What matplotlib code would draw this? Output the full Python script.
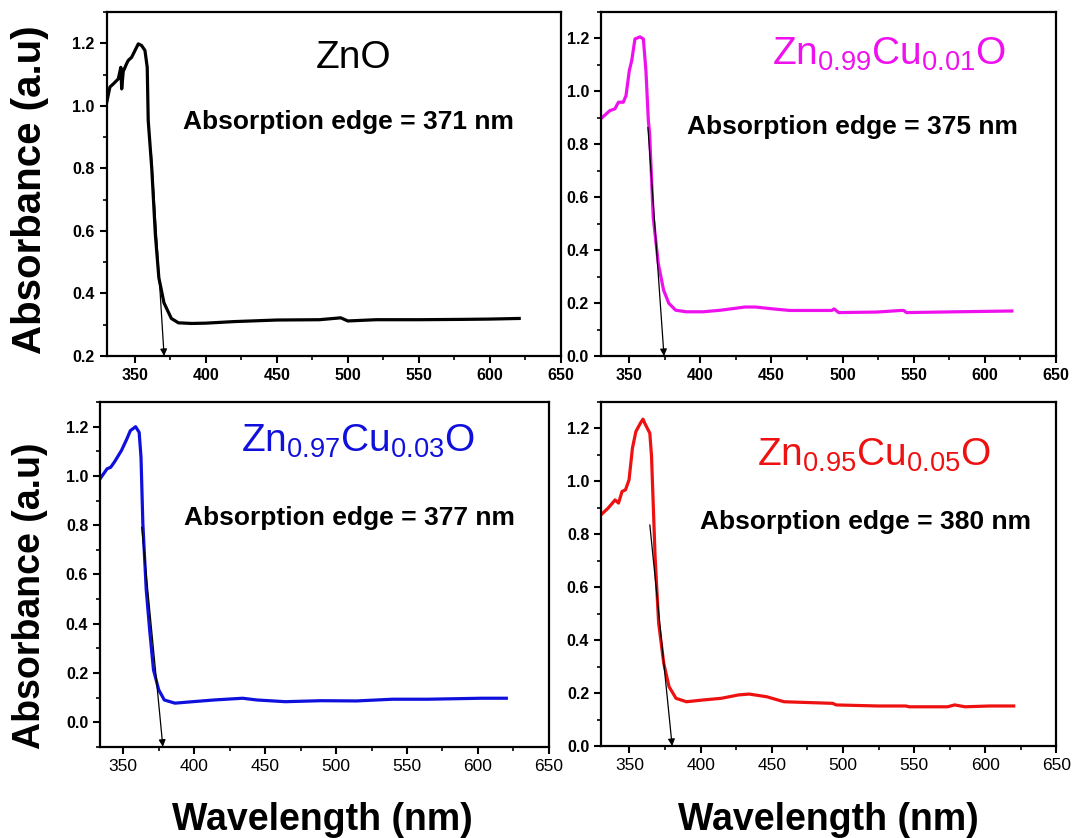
import matplotlib
matplotlib.use("Agg")
import matplotlib.pyplot as plt
import numpy as np
from matplotlib.ticker import MultipleLocator

plt.rcParams['font.family'] = ['Liberation Sans', 'DejaVu Sans']
plt.rcParams['mathtext.default'] = 'regular'

# ZnO (black)
zno_x = [330, 332.3, 334.7, 338.2, 340, 340.6, 341.7, 344, 345.2, 347.6, 350, 352.3, 354.6,
         357, 358.6, 359.3, 361.8, 364.3, 366.8, 370.4, 375.6, 380.6, 390, 400, 420, 450,
         480, 490, 495, 500, 520, 550, 580, 600, 620.8]
zno_y = [1.01, 1.06, 1.07, 1.086, 1.123, 1.054, 1.11, 1.134, 1.145, 1.155, 1.177, 1.198, 1.193,
         1.177, 1.123, 0.953, 0.80, 0.59, 0.45, 0.37, 0.32, 0.306, 0.304, 0.305, 0.31, 0.315,
         0.316, 0.32, 0.322, 0.312, 0.316, 0.316, 0.317, 0.318, 0.32]

# Zn0.99Cu0.01O (magenta)
cu1_x = [330, 336.4, 340, 342.5, 345.9, 347.8, 350.1, 351.8, 354.1, 357.6, 360, 361.8, 363.5,
         364.4, 366.9, 370.5, 374.2, 377.9, 382.7, 390, 402, 414.4, 431.4, 438.8, 451, 463,
         492.5, 494, 497.3, 524, 541, 543, 544.9, 580, 619]
cu1_y = [0.896, 0.927, 0.934, 0.959, 0.959, 0.984, 1.078, 1.116, 1.198, 1.206, 1.198, 1.078, 0.89,
         0.84, 0.525, 0.349, 0.249, 0.199, 0.173, 0.167, 0.167, 0.173, 0.185, 0.185, 0.178, 0.172,
         0.172, 0.178, 0.164, 0.166, 0.172, 0.172, 0.164, 0.167, 0.17]

# Zn0.97Cu0.03O (blue)
cu3_x = [330.7, 333.7, 338.7, 341.2, 343.8, 348.8, 352.6, 355.1, 358.8, 361.3, 362.6, 363.9,
         366.3, 368.7, 371.4, 375.1, 379, 386.5, 399, 414.1, 434.2, 444.1, 464.3, 489.4,
         514.5, 539.7, 564.8, 602.4, 620]
cu3_y = [0.961, 0.988, 1.029, 1.035, 1.056, 1.103, 1.15, 1.184, 1.2, 1.177, 1.076, 0.806,
         0.536, 0.374, 0.212, 0.131, 0.09, 0.077, 0.083, 0.09, 0.097, 0.09, 0.083, 0.087,
         0.086, 0.093, 0.093, 0.097, 0.097]

# Zn0.95Cu0.05O (red)
cu5_x = [330, 335, 339.9, 342.3, 344.8, 347.2, 349.7, 352.1, 354.5, 357.7, 359.5, 360.7, 364.3,
         365.5, 368, 370.5, 374.1, 377.8, 382.7, 390, 402.3, 414.5, 426.8, 434.1, 446.4, 458.6,
         475.7, 492.8, 495.2, 524.6, 544.2, 546.6, 573.6, 578.5, 585.8, 603, 620]
cu5_y = [0.873, 0.898, 0.929, 0.917, 0.961, 0.967, 1.005, 1.125, 1.187, 1.219, 1.234, 1.219, 1.181,
         1.093, 0.715, 0.464, 0.312, 0.224, 0.18, 0.167, 0.174, 0.18, 0.193, 0.196, 0.186, 0.167,
         0.164, 0.161, 0.155, 0.151, 0.151, 0.148, 0.148, 0.155, 0.148, 0.151, 0.151]

# arrows: (start x, start y, tip x, tip y)
arrows = [(361.5, 0.85, 370.5, 0.2),
          (363.2, 0.864, 374.5, 0.0),
          (363.1, 0.792, 378.0, -0.1),
          (364.3, 0.835, 380.0, 0.0)]

titles = ['ZnO', r'Zn$_{0.99}$Cu$_{0.01}$O', r'Zn$_{0.97}$Cu$_{0.03}$O', r'Zn$_{0.95}$Cu$_{0.05}$O']
edges = ['Absorption edge = 371 nm', 'Absorption edge = 375 nm',
         'Absorption edge = 377 nm', 'Absorption edge = 380 nm']
colors = ['black', '#ee11ee', '#1010dd', '#ee1111']
xs = [zno_x, cu1_x, cu3_x, cu5_x]
ys = [zno_y, cu1_y, cu3_y, cu5_y]

W, H = 1074, 838
fig = plt.figure(figsize=(W / 100, H / 100), dpi=100)

positions = [[0.0993, 0.5752, 0.4227, 0.4105],
             [0.5593, 0.5752, 0.4239, 0.4105],
             [0.0931, 0.1089, 0.4180, 0.4113],
             [0.5596, 0.1098, 0.4240, 0.4109]]
xlims = [(330, 650), (330, 650), (333.7, 650), (330, 650)]
ylims = [(0.2, 1.3), (0.0, 1.3), (-0.1, 1.3), (0.0, 1.3)]
yticks = [np.arange(0.2, 1.21, 0.2), np.arange(0.0, 1.21, 0.2),
          np.arange(0.0, 1.21, 0.2), np.arange(0.0, 1.21, 0.2)]

# text positions in pixels
title_pos = [(354, 68), (889, 65), (358, 452), (874, 466)]
edge_pos = [(348, 122), (852, 127), (349, 518), (866, 522)]


def px(x, y):
    return x / W, 1 - y / H


for i in range(4):
    ax = fig.add_axes(positions[i])
    ax.plot(xs[i], ys[i], color=colors[i], lw=2.3, solid_joinstyle='round')
    a = arrows[i]
    ax.annotate('', xy=(a[2], a[3]), xytext=(a[0], a[1]),
                arrowprops=dict(arrowstyle='-|>', color='black', lw=0.9,
                                mutation_scale=10, shrinkA=0, shrinkB=0))
    ax.set_xlim(xlims[i])
    ax.set_ylim(ylims[i])
    ax.set_xticks(np.arange(350, 651, 50))
    ax.xaxis.set_minor_locator(MultipleLocator(25))
    ax.set_yticks(yticks[i])
    ax.yaxis.set_minor_locator(MultipleLocator(0.1))
    ax.set_yticklabels(['%.1f' % v for v in yticks[i]])
    for s in ax.spines.values():
        s.set_linewidth(1.6)
    ax.tick_params(which='major', direction='out', length=5, width=1.5, labelsize=11.5)
    ax.tick_params(which='minor', direction='out', length=3, width=1.2)
    for lab in ax.get_yticklabels():
        lab.set_fontweight('bold')
    if i < 2:
        for lab in ax.get_xticklabels():
            lab.set_fontweight('bold')
    else:
        ax.tick_params(axis='x', labelsize=12.5)

    tx, ty = px(*title_pos[i])
    fig.text(tx, ty, titles[i], color=colors[i], fontsize=28, ha='center', va='baseline')
    ex, ey = px(*edge_pos[i])
    fig.text(ex, ey, edges[i], fontsize=19, fontweight='bold', ha='center', va='center')

x, y = px(30, 190)
fig.text(x, y, 'Absorbance (a.u)', rotation=90, fontsize=29, fontweight='bold',
         ha='center', va='center')
x, y = px(30, 596)
fig.text(x, y, 'Absorbance (a.u)', rotation=90, fontsize=27, fontweight='bold',
         ha='center', va='center')
x, y = px(322, 820)
fig.text(x, y, 'Wavelength (nm)', fontsize=27, fontweight='bold', ha='center', va='center')
x, y = px(828, 820)
fig.text(x, y, 'Wavelength (nm)', fontsize=27, fontweight='bold', ha='center', va='center')

fig.savefig('out.png', dpi=100)
